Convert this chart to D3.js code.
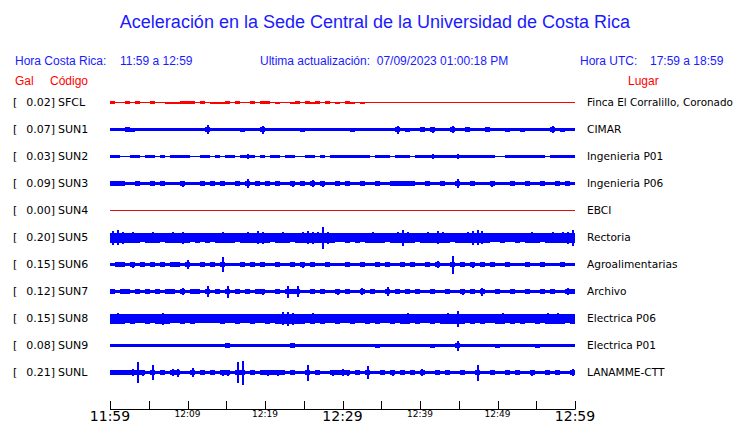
<!DOCTYPE html>
<html><head><meta charset="utf-8">
<script src="https://cdn.jsdelivr.net/npm/d3@7"></script>
<style>html,body{margin:0;padding:0;background:#fff;}</style>
</head><body>
<svg id="chart" width="740" height="423"></svg>
<script>
// ---------------- DATA ----------------
const title = "Aceleración en la Sede Central de la Universidad de Costa Rica";
const headerLocal = ["Hora Costa Rica:", "11:59 a 12:59"];
const headerUpdate = "Ultima actualización:  07/09/2023 01:00:18 PM";
const headerUTC = ["Hora UTC:", "17:59 a 18:59"];
const codes = ["SFCL","SUN1","SUN2","SUN3","SUN4","SUN5","SUN6","SUN7","SUN8","SUN9","SUNL"];
const gal = ["0.02","0.07","0.03","0.09","0.00","0.20","0.15","0.12","0.15","0.08","0.21"];
const places = ["Finca El Corralillo, Coronado","CIMAR","Ingenieria P01","Ingenieria P06","EBCI","Rectoria","Agroalimentarias","Archivo","Electrica P06","Electrica P01","LANAMME-CTT"];
const traceColors = ["#ff0000","#0000ff","#0000ff","#0000ff","#d41010","#0000ff","#0000ff","#0000ff","#0000ff","#0000ff","#0000ff"];
// noise floor (relative amplitude units) per station
const noiseFloor = [0.5,1.5,0.5,1.5,0.5,4,1.5,1.5,4,1.5,1.5];
// tick labels, every 5 minutes from 11:59 to 12:59 (labels every 10 min)
const tickMinutes = [0,5,10,15,20,25,30,35,40,45,50,55,60];
const tickLabels = ["11:59","12:09","12:19","12:29","12:39","12:49","12:59"];
const tickLabelMinutes = [0,10,20,30,40,50,60];
const majorLabels = ["11:59","12:29","12:59"];

// envelope (peak |acceleration|, relative units) in 93 time bins over the hour
const SFCL = [1.5,.5,.5,1.5,.5,1.5,.5,.5,1.5,.5,
 .5,1,1,1,1.5,1.5,1.5,.5,1.5,.5,
 1,1,1,1.5,.5,1.5,.5,.5,1.5,.5,
 1.5,1.5,.5,1,.5,.5,1,1.5,.5,1.5,
 1,1.5,.5,1.5,.5,1,.5,1.5,1,.5,
 1,.5,.5,.5,.5,.5,.5,.5,.5,.5,
 .5,.5,.5,.5,.5,.5,.5,.5,.5,.5,
 .5,.5,.5,.5,.5,.5,.5,.5,.5,.5,
 .5,.5,.5,.5,.5,.5,.5,.5,.5,.5,
 .5,.5,.5];
const SUN1 = [1.5,1.5,1.5,2.5,2,1.5,1.5,1.5,1.5,1.5,
 1.5,1.5,1.5,1.5,1.5,1.5,1.5,1.5,1.5,4.5,
 1.5,1.5,1.5,1.5,1.5,1.5,2,1.5,1.5,1.5,
 4,1.5,1.5,1.5,1.5,1.5,1.5,1.5,2,1.5,
 1.5,1.5,1.5,1.5,1.5,1.5,1.5,1.5,2,1.5,
 1.5,1.5,1.5,1.5,1.5,1.5,1.5,4,1.5,2,
 1.5,1.5,2.5,1.5,3,1.5,1.5,1.5,3.5,1.5,
 1.5,2.5,1.5,1.5,1.5,2.5,1.5,1.5,1.5,2,
 1.5,1.5,2,1.5,1.5,1.5,1.5,1.5,3.5,1.5,
 2,1.5,1.5];
const SUN2 = [1.5,1.5,.5,.5,1.5,1.5,.5,1.5,1.5,.5,
 1.5,.5,1.5,1.5,1.5,1.5,.5,.5,1.5,1.5,
 .5,1.5,.5,1.5,1.5,.5,1.5,2.5,1.5,.5,
 1.5,.5,1.5,1.5,.5,1.5,1.5,.5,.5,1.5,
 1.5,.5,1.5,.5,1.5,1.5,1.5,1.5,1.5,1.5,
 1.5,1.5,.5,1.5,1.5,1.5,.5,1.5,1.5,1.5,
 .5,1.5,1.5,1.5,2.5,1.5,1.5,1.5,1.5,2.5,
 1.5,1.5,1.5,1.5,1.5,1.5,1.5,.5,.5,1.5,
 1.5,1.5,1.5,1.5,1.5,1.5,1.5,.5,1.5,1.5,
 1.5,1.5,1.5];
const SUN3 = [2.5,2.5,2.5,1.5,1.5,2.5,1.5,1.5,2.5,1.5,
 2.5,1.5,1.5,1.5,3,1.5,1.5,1.5,2.5,1.5,
 2.5,1.5,2.5,1.5,1.5,2.5,1.5,4.5,1.5,2.5,
 1.5,2.5,1.5,2.5,1.5,1.5,3,1.5,2.5,1.5,
 3.5,1.5,3,1.5,1.5,2.5,1.5,2.5,1.5,1.5,
 2.5,1.5,1.5,2.5,1.5,1.5,2.5,2.5,2.5,2.5,
 2.5,1.5,1.5,2.5,1.5,1.5,2.5,1.5,1.5,4.5,
 1.5,1.5,2.5,1.5,1.5,1.5,3,1.5,1.5,1.5,
 2.5,1.5,1.5,2.5,1.5,1.5,2.5,1.5,1.5,2.5,
 1.5,2.5,1.5];
const SUN4 = [.5,.5,.5,.5,.5,.5,.5,.5,.5,.5,
 .5,.5,.5,.5,.5,.5,.5,.5,.5,.5,
 .5,.5,.5,.5,.5,.5,.5,.5,.5,.5,
 .5,.5,.5,.5,.5,.5,.5,.5,.5,.5,
 .5,.5,.5,.5,.5,.5,.5,.5,.5,.5,
 .5,.5,.5,.5,.5,.5,.5,.5,.5,.5,
 .5,.5,.5,.5,.5,.5,.5,.5,.5,.5,
 .5,.5,.5,.5,.5,.5,.5,.5,.5,.5,
 .5,.5,.5,.5,.5,.5,.5,.5,.5,.5,
 .5,.5,.5];
const SUN5 = [7,7.5,6,5,5.5,5,4.5,5,5.5,5,
 4.5,5,5.5,5,6,5,4.5,5,4.5,5,
 4.5,5,5.5,5,5,4.5,5,5.5,5,6.5,
 6,5,4.5,5,5.5,5,4.5,5,5.5,6.5,
 6,5.5,11,6,5,4.5,4.5,5,4.5,5,
 4.5,5,5.5,5,5,4.5,5,5.5,8,5.5,
 5,4.5,5,5.5,5,6.5,5.5,5,4.5,5,
 5,5.5,7,7.5,6.5,5,4.5,4.5,5,4.5,
 4.5,5,4.5,5,5.5,5,4.5,5,5.5,5,
 5.5,6,8];
const SUN6 = [1.5,2.5,2.5,1.5,3,1.5,2.5,1.5,2.5,1.5,
 2.5,1.5,2.5,2.5,1.5,4.5,1.5,1.5,2.5,1.5,
 2.5,1.5,7.5,1.5,1.5,1.5,2.5,1.5,2.5,1.5,
 2.5,1.5,1.5,2.5,1.5,1.5,2.5,1.5,3,1.5,
 2.5,1.5,1.5,2.5,1.5,1.5,1.5,2.5,1.5,1.5,
 2.5,1.5,1.5,2.5,1.5,2.5,1.5,1.5,2.5,1.5,
 2.5,1.5,1.5,2.5,1.5,3.5,1.5,1.5,9,1.5,
 2.5,1.5,3,1.5,2.5,1.5,2.5,1.5,1.5,2.5,
 1.5,1.5,1.5,2.5,1.5,1.5,2.5,1.5,1.5,1.5,
 2.5,1.5,1.5];
const SUN7 = [2.5,1.5,2.5,2.5,1.5,2.5,1.5,2.5,1.5,2.5,
 1.5,2.5,2.5,1.5,3.5,1.5,2.5,2.5,1.5,5.5,
 1.5,2.5,1.5,6,1.5,2.5,1.5,2.5,1.5,2.5,
 3,1.5,1.5,2.5,1.5,6,2.5,5.5,1.5,1.5,
 2.5,1.5,2.5,1.5,1.5,3,1.5,2.5,1.5,1.5,
 3.5,1.5,2.5,1.5,1.5,4.5,1.5,2.5,1.5,2.5,
 1.5,2.5,1.5,1.5,2.5,1.5,1.5,2.5,1.5,1.5,
 3,1.5,2.5,1.5,4,1.5,1.5,2.5,1.5,1.5,
 2.5,1.5,1.5,2.5,1.5,1.5,2.5,1.5,2.5,1.5,
 1.5,3.5,2.5];
const SUN8 = [5,5.5,5,4.5,5,4.5,4.5,5,4.5,5,
 6,5,4.5,4.5,5,4.5,5,4.5,4.5,4.5,
 4.5,4.5,5,4.5,4.5,5,4.5,4.5,5,4.5,
 4.5,5,4.5,5,6.5,7,6,5,5,4.5,
 5.5,4.5,5,4.5,4.5,5,4.5,4.5,5,4.5,
 4.5,5,4.5,5,4.5,4.5,5,4.5,5,5.5,
 4.5,5,4.5,4.5,5,4.5,5,5.5,5,8,
 5,4.5,5,4.5,5,4.5,4.5,5,5.5,4.5,
 5,4.5,5,4.5,4.5,5,4.5,5.5,5,5.5,
 5,4.5,5];
const SUN9 = [1.5,1.5,1.5,1.5,1.5,1.5,1.5,1.5,1.5,1.5,
 1.5,1.5,1.5,1.5,1.5,1.5,1.5,1.5,1.5,1.5,
 1.5,1.5,1.5,2.5,1.5,1.5,1.5,1.5,1.5,1.5,
 1.5,1.5,1.5,1.5,1.5,1.5,2.5,1.5,1.5,1.5,
 1.5,1.5,1.5,1.5,1.5,1.5,1.5,1.5,1.5,1.5,
 1.5,1.5,1.5,2,1.5,1.5,1.5,1.5,1.5,1.5,
 1.5,1.5,1.5,1.5,2,1.5,1.5,1.5,1.5,5,
 1.5,1.5,1.5,1.5,1.5,1.5,1.5,2,1.5,1.5,
 1.5,1.5,1.5,1.5,1.5,2,1.5,1.5,1.5,1.5,
 1.5,1.5,1.5];
const SUNL = [2.5,2.5,2.5,2.5,3.5,10.5,3,1.5,7.5,1.5,
 2.5,1.5,3.5,4,1.5,1.5,4.5,1.5,2.5,1.5,
 2.5,1.5,3,3,1.5,10.5,12,1.5,2.5,1.5,
 2.5,3,2.5,3,2.5,1.5,2.5,1.5,1.5,8,
 1.5,2.5,1.5,1.5,3,2.5,3.5,3,1.5,2.5,
 1.5,6.5,1.5,1.5,2.5,1.5,3,1.5,2.5,1.5,
 2.5,1.5,3.5,1.5,1.5,2.5,1.5,2.5,1.5,1.5,
 2.5,1.5,1.5,8,1.5,1.5,2.5,1.5,1.5,2.5,
 1.5,2.5,1.5,1.5,3,1.5,1.5,2.5,1.5,2.5,
 1.5,1.5,3.5];
const traces = [SFCL,SUN1,SUN2,SUN3,SUN4,SUN5,SUN6,SUN7,SUN8,SUN9,SUNL];

// ---------------- DRAW ----------------
const svg = d3.select("#chart");
const x = d3.scaleLinear().domain([0, 60]).range([110, 575]);
const row = d3.scalePoint().domain(codes).range([102, 372]);
const amp = d3.scaleLinear().domain([-13.5, 13.5]).range([13.5, -13.5]);
const blue = "#1a1aff";

svg.append("text").attr("x", 375).attr("y", 28).attr("text-anchor", "middle")
  .attr("font-family", "Liberation Sans, Arial, sans-serif").attr("font-size", 18)
  .attr("fill", blue).text(title);

const hdr = (tx, ty, t, col, anchor) => svg.append("text").attr("x", tx).attr("y", ty)
  .attr("text-anchor", anchor || "start")
  .attr("font-family", "Liberation Sans, Arial, sans-serif").attr("font-size", 12)
  .attr("fill", col).text(t);
hdr(15, 65, headerLocal[0], blue);
hdr(120, 65, headerLocal[1], blue);
hdr(260, 65, headerUpdate, blue).style("white-space", "pre");
hdr(580, 65, headerUTC[0], blue);
hdr(650, 65, headerUTC[1], blue);
hdr(15, 85, "Gal", "#ff0000");
hdr(50, 85, "Código", "#ff0000");
hdr(628, 85, "Lugar", "#ff0000");

const lab = svg.append("g").attr("font-family", "DejaVu Sans, sans-serif").attr("font-size", 11).attr("fill", "#000");
codes.forEach((c, i) => {
  const y = row(c) + 4;
  lab.append("text").attr("x", 13).attr("y", y).text("[");
  lab.append("text").attr("x", 55).attr("y", y).attr("text-anchor", "end").text(gal[i] + "]");
  lab.append("text").attr("x", 58).attr("y", y).text(c);
  const t = lab.append("text").attr("x", 587).attr("y", y).attr("font-size", 10.6).text(places[i]);
  if (places[i].length > 20) t.attr("textLength", 146).attr("lengthAdjust", "spacingAndGlyphs");
});

// traces
const nb = 93, binMin = 60 / nb, cap = 1.0;
traces.forEach((vals, k) => {
  const cy = row(codes[k]) + 0.5;
  const g = svg.append("g").attr("transform", `translate(0,${cy})`).attr("fill", traceColors[k]);
  const f = noiseFloor[k];
  const pts = vals.map((v, i) => [i * binMin, Math.min(v, f + cap)]);
  pts.push([60, pts[pts.length - 1][1]]);
  const area = d3.area().curve(d3.curveStepAfter)
    .x(d => x(d[0])).y0(d => amp(-d[1])).y1(d => amp(d[1]));
  g.append("path").attr("d", area(pts)).attr("shape-rendering", "crispEdges");
  vals.forEach((v, i) => {
    if (v <= f + cap) return;
    const xc = Math.round(x((i + 0.5) * binMin));
    g.append("rect").attr("x", xc - 1).attr("width", 2)
      .attr("y", amp(v)).attr("height", amp(-v) - amp(v)).attr("shape-rendering", "crispEdges");
  });
});

// axis
const ax = svg.append("g");
ax.append("line").attr("x1", x(0)).attr("x2", x(60)).attr("y1", 409.5).attr("y2", 409.5)
  .attr("stroke", "#000").attr("stroke-width", 1);
tickMinutes.forEach(m => {
  ax.append("line").attr("x1", Math.round(x(m)) + 0.5).attr("x2", Math.round(x(m)) + 0.5)
    .attr("y1", 401).attr("y2", 409.5).attr("stroke", "#000");
});
tickLabels.forEach((t, i) => {
  const big = majorLabels.includes(t);
  ax.append("text").attr("x", x(tickLabelMinutes[i])).attr("y", big ? 421 : 417)
    .attr("text-anchor", "middle").attr("font-family", "DejaVu Sans, sans-serif")
    .attr("font-size", big ? 14 : 9).attr("fill", "#000").text(t);
});
</script>
</body></html>
